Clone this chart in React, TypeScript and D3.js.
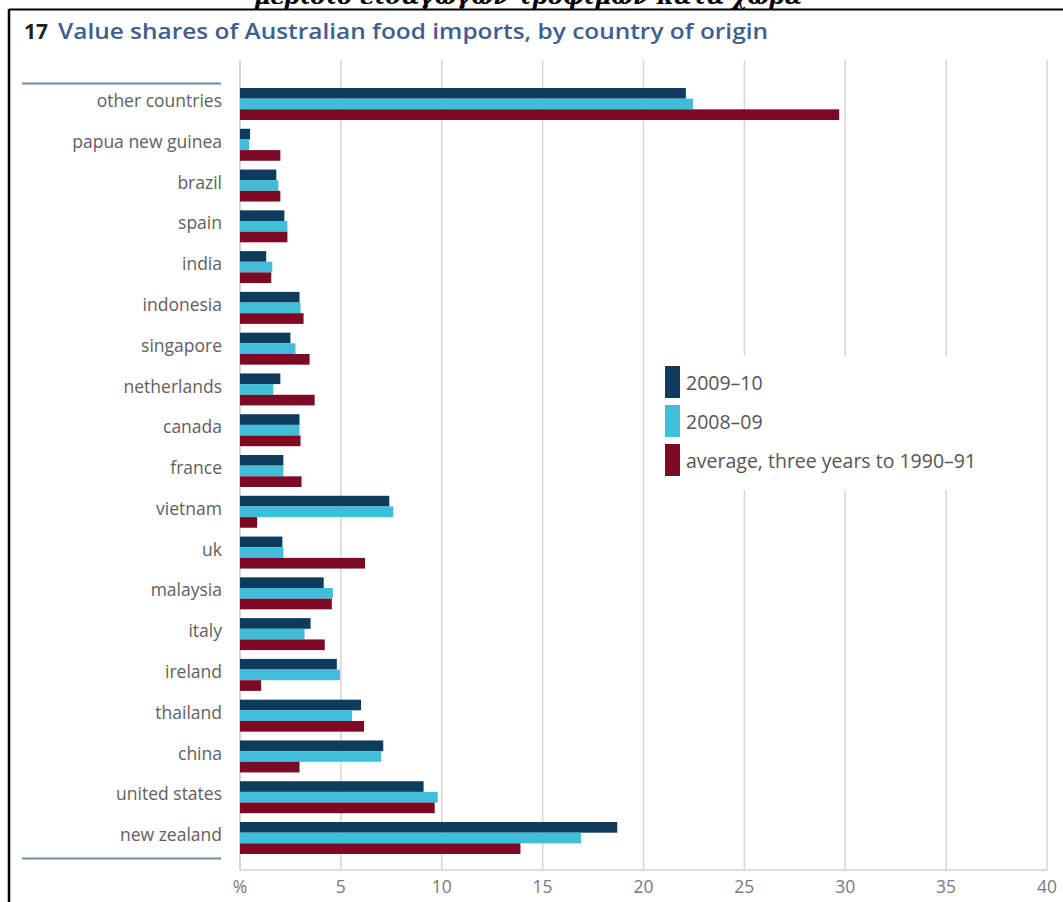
import React from 'react';
import * as d3 from 'd3';

const countries = [
  'other countries', 'papua new guinea', 'brazil', 'spain', 'india', 'indonesia',
  'singapore', 'netherlands', 'canada', 'france', 'vietnam', 'uk', 'malaysia',
  'italy', 'ireland', 'thailand', 'china', 'united states', 'new zealand',
];
const seriesNames = ['2009–10', '2008–09', 'average, three years to 1990–91'];
const v2009 = [22.1, 0.5, 1.8, 2.2, 1.3, 2.95, 2.5, 2.0, 2.95, 2.15, 7.4, 2.1, 4.15, 3.5, 4.8, 6.0, 7.1, 9.1, 18.7];
const v2008 = [22.45, 0.45, 1.9, 2.35, 1.6, 3.0, 2.75, 1.65, 2.95, 2.15, 7.6, 2.15, 4.6, 3.2, 4.95, 5.55, 7.0, 9.8, 16.9];
const vAvg = [29.7, 2.0, 2.0, 2.35, 1.55, 3.15, 3.45, 3.7, 3.0, 3.05, 0.85, 6.2, 4.55, 4.2, 1.05, 6.15, 2.95, 9.65, 13.9];
const xTicks = [0, 5, 10, 15, 20, 25, 30, 35, 40];
const colors = ['#0d3c5c', '#3fbdd9', '#7c0a24'];

const W = 1063;
const H = 902;

export default function App() {
  const x = d3.scaleLinear().domain([0, 40]).range([240, 1047]);
  const y = d3.scaleBand<string>().domain(countries).range([83.6, 858.4]).paddingInner(0.216).paddingOuter(0.108);
  const sub = d3.scaleBand<number>().domain([0, 1, 2]).range([0, y.bandwidth()]);
  const series = [v2009, v2008, vAvg];
  const font = '"Open Sans", "Noto Sans", sans-serif';

  return (
    <div>
      <style>{'body{margin:0}'}</style>
      <svg width={W} height={H} style={{ display: 'block', background: '#fff' }} fontFamily={font}>
        {/* heading of the page above, cut off by the frame */}
        <text x={528} y={4} textAnchor="middle" fontFamily="'DejaVu Serif', serif" fontWeight="bold"
          fontStyle="italic" fontSize={22} fill="#000" textLength={548} lengthAdjust="spacingAndGlyphs">
          μερίδιο εισαγωγών τροφίμων κατά χώρα
        </text>
        <line x1={9} x2={W} y1={9.5} y2={9.5} stroke="#000" strokeWidth={2} />
        <line x1={9} x2={9} y1={9} y2={H} stroke="#000" strokeWidth={2.5} />

        {/* title */}
        <text x={24} y={39} fontSize={21} fontWeight={700} fill="#222">17</text>
        <text x={58} y={39} fontSize={21} fontWeight={600} fill="#3f5f8f" textLength={710} lengthAdjust="spacingAndGlyphs">
          Value shares of Australian food imports, by country of origin
        </text>

        {/* gridlines */}
        {xTicks.map(t => (
          <line key={t} x1={x(t)} x2={x(t)} y1={60} y2={870} stroke={t === 0 ? '#c8c8c8' : '#d6d6d6'} strokeWidth={1.5} />
        ))}
        <line x1={x(0)} x2={x(40)} y1={870} y2={870} stroke="#d2d2d2" strokeWidth={1.5} />

        {/* rules beside the labels */}
        <line x1={22} x2={221} y1={y.range()[0]} y2={y.range()[0]} stroke="#6d8aa6" strokeWidth={2} />
        <line x1={22} x2={221} y1={y.range()[1]} y2={y.range()[1]} stroke="#6d8aa6" strokeWidth={2} />

        {/* bars */}
        {countries.map((c, i) => (
          <g key={c}>
            {series.map((s, k) => (
              <rect key={k} x={x(0)} y={(y(c) as number) + (sub(k) as number)} width={x(s[i]) - x(0)}
                height={sub.bandwidth()} fill={colors[k]} />
            ))}
            <text x={222} y={(y(c) as number) + y.bandwidth() / 2 - 3} dy="0.35em" textAnchor="end"
              fontSize={17.5} fill="#606060">{c}</text>
          </g>
        ))}

        {/* x axis labels */}
        {xTicks.map(t => (
          <text key={t} x={x(t)} y={887} dy="0.35em" textAnchor="middle" fontSize={17.5} fill="#7a7a7a">
            {t === 0 ? '%' : t}
          </text>
        ))}

        {/* legend */}
        <rect x={652} y={356} width={350} height={134} fill="#fff" />
        {seriesNames.map((n, k) => (
          <g key={n}>
            <rect x={665} y={366 + k * 39} width={15} height={32} fill={colors[k]} />
            <text x={686} y={383 + k * 39} dy="0.35em" fontSize={19.5} fill="#555">{n}</text>
          </g>
        ))}
      </svg>
    </div>
  );
}
